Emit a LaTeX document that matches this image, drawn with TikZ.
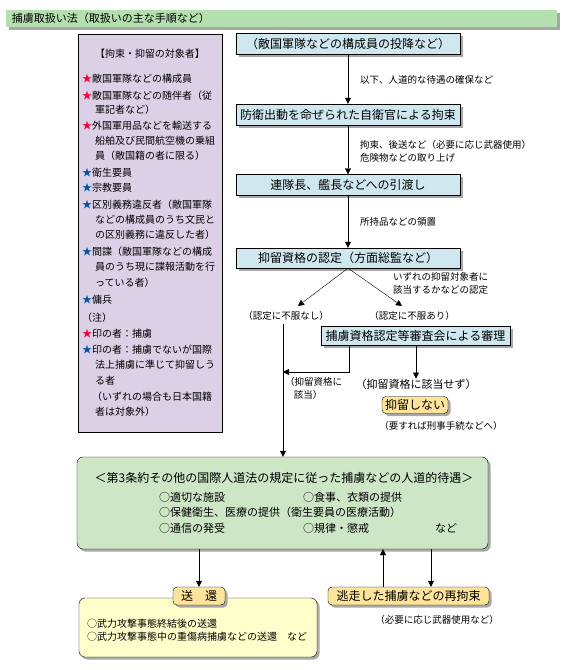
\documentclass[tikz,border=0pt]{standalone}
\usepackage{fontspec}
\setmainfont{Noto Sans CJK JP}
\usetikzlibrary{arrows.meta,shadows}
\definecolor{titlegreen}{HTML}{B4DFAE}
\definecolor{lavender}{HTML}{DCD0E6}
\definecolor{flowblue}{HTML}{CFE8F0}
\definecolor{treatgreen}{HTML}{CCE6C6}
\definecolor{tagorange}{HTML}{FEE49A}
\definecolor{noteyellow}{HTML}{FFFFCC}
\definecolor{boxshadow}{HTML}{A8A8A8}
\definecolor{starred}{HTML}{FF0033}
\definecolor{starblue}{HTML}{0055AA}
\newcommand{\redstar}{\textcolor{starred}{★}}
\newcommand{\bluestar}{\textcolor{starblue}{★}}
\newcommand{\fsz}[1]{\fontsize{#1}{13}\selectfont}

\tikzset{
  arr/.style={-{Triangle[length=6pt,width=6pt]}},
  shade box/.style={drop shadow={shadow xshift=2.5pt,shadow yshift=-2.5pt,fill=boxshadow,opacity=1}},
  bluebox/.style={draw, fill=flowblue, shade box, inner sep=0pt, font=\fsz{12}},
  tagbox/.style={draw, fill=tagorange, rounded corners=4pt, shade box, inner sep=0pt, font=\fsz{12}},
  lbl/.style={font=\fsz{9.5}, inner sep=0pt},
}

\begin{document}
\begin{tikzpicture}[x=1pt,y=-1pt]
    \useasboundingbox (0,0) rectangle (569,670);

    % Title bar
    \node[fill=titlegreen, shade box, minimum width=551pt, minimum height=17pt, inner sep=0pt] (titlebar) at (281.5,18.5) {};
    \node[anchor=west, font=\fsz{11}, inner sep=0pt] (titletext) at ([xshift=6pt]titlebar.west) {捕虜取扱い法（取扱いの主な手順など）};

    % Persons to be detained
    \node[draw, fill=lavender, minimum width=144pt, minimum height=398pt] (targets) at (150,233) {};
    \node[font=\fsz{10}, inner sep=0pt] (targethead) at (150,54) {【拘束・抑留の対象者】};
    \foreach \y/\x/\t in {
        79/82/{\redstar 敵国軍隊などの構成員},
        96/82/{\redstar 敵国軍隊などの随伴者（従},
        110/95/{軍記者など）},
        126/82/{\redstar 外国軍用品などを輸送する},
        141/95/{船舶及び民間航空機の乗組},
        156/95/{員（敵国籍の者に限る）},
        173/82/{\bluestar 衛生要員},
        188/82/{\bluestar 宗教要員},
        205/82/{\bluestar 区別義務違反者（敵国軍隊},
        220/95/{などの構成員のうち文民と},
        235/95/{の区別義務に違反した者）},
        252/82/{\bluestar 間諜（敵国軍隊などの構成},
        267/95/{員のうち現に諜報活動を行},
        283/95/{っている者）},
        300/82/{\bluestar 傭兵},
        318/82/{（注）},
        334/82/{\redstar 印の者：捕虜},
        350/82/{\bluestar 印の者：捕虜でないが国際},
        365/95/{法上捕虜に準じて抑留しう},
        381/95/{る者},
        397/92/{（いずれの場合も日本国籍},
        412/95/{者は対象外）}} {
        \node[anchor=west, font=\fsz{10}, inner sep=0pt] (t\y) at (\x,\y) {\t};
    }

    % Main flow
    \node[bluebox, minimum width=224pt, minimum height=21pt] (surrender) at (348,43.5) {（敵国軍隊などの構成員の投降など）};
    \node[bluebox, minimum width=224pt, minimum height=21pt] (detain) at (348,114.5) {防衛出動を命ぜられた自衛官による拘束};
    \node[bluebox, minimum width=224pt, minimum height=21pt] (handover) at (348,185) {連隊長、艦長などへの引渡し};
    \node[bluebox, minimum width=224pt, minimum height=20pt] (qualify) at (348,258) {抑留資格の認定（方面総監など）};

    \draw[arr] (surrender) -- (detain);
    \draw[arr] (detain) -- (handover);
    \draw[arr] (handover) -- (qualify);

    \node[lbl, anchor=west] (care) at (360,80) {以下、人道的な待遇の確保など};
    \node[lbl, anchor=west, align=left] (seize) at (360,151) {拘束、後送など（必要に応じ武器使用）\\危険物などの取り上げ};
    \node[lbl, anchor=west] (custody) at (360,222) {所持品などの領置};
    \node[lbl, anchor=west, align=left] (judge) at (393,283) {いずれの抑留対象者に\\該当するかなどの認定};

    % Split after the decision
    \coordinate (nashitip) at (298,306);
    \coordinate (aritip) at (402,306);
    \draw[arr] (qualify.south) -- (nashitip);
    \draw[arr] (qualify.south) -- (aritip);
    \node[lbl] (nashi) at (286,316) {（認定に不服なし）};
    \node[lbl] (ari) at (412,316) {（認定に不服あり）};

    \node[bluebox, minimum width=189pt, minimum height=19pt] (review) at (415.5,336) {捕虜資格認定等審査会による審理};
    \node[font=\fsz{11}, inner sep=0pt] (nogai) at (416,384) {（抑留資格に該当せず）};
    \node[lbl, anchor=north west, align=left] (gai) at (285,377) {（抑留資格に\\\hspace*{0.9em}該当）};
    \node[tagbox, minimum width=66pt, minimum height=17pt] (norelease) at (415,405) {抑留しない};
    \node[lbl] (keiji) at (441,426) {（要すれば刑事手続などへ）};

    % Humane treatment
    \node[draw, fill=treatgreen, rounded corners=6pt, shade box, minimum width=411pt, minimum height=92pt] (treat) at (282.5,503) {};
    \node[font=\fsz{12}, inner sep=0pt] (treattitle) at (284,478) {＜第3条約その他の国際人道法の規定に従った捕虜などの人道的待遇＞};
    \node[anchor=west, font=\fsz{11}, inner sep=0pt] (facility) at (159,497) {○適切な施設};
    \node[anchor=west, font=\fsz{11}, inner sep=0pt] (food) at (303,497) {○食事、衣類の提供};
    \node[anchor=west, font=\fsz{11}, inner sep=0pt] (health) at (159,512) {○保健衛生、医療の提供（衛生要員の医療活動）};
    \node[anchor=west, font=\fsz{11}, inner sep=0pt] (mail) at (159,528) {○通信の発受};
    \node[anchor=west, font=\fsz{11}, inner sep=0pt] (discipline) at (303,528) {○規律・懲戒};
    \node[anchor=west, font=\fsz{11}, inner sep=0pt] (etc) at (435,528) {など};

    \coordinate (vtop) at (283,324);
    \coordinate (jx) at (349,372);
    \draw[arr] (vtop) -- (vtop |- treat.north);
    \draw[arr] (review.south -| jx) |- (vtop |- jx);
    \draw[arr] (review.south -| nogai) -- (nogai.north);

    % Repatriation and recapture
    \node[draw, fill=noteyellow, rounded corners=6pt, shade box, minimum width=238pt, minimum height=59pt] (repbox) at (198,627.5) {};
    \node[tagbox, minimum width=52pt, minimum height=18pt] (sokan) at (199,596) {送\hspace{1em}還};
    \node[anchor=west, font=\fsz{10}, inner sep=0pt] (rep1) at (87,624) {○武力攻撃事態終結後の送還};
    \node[anchor=west, font=\fsz{10}, inner sep=0pt] (rep2) at (87,637) {○武力攻撃事態中の重傷病捕虜などの送還\hspace{1em}など};

    \node[tagbox, minimum width=161pt, minimum height=18pt] (recap) at (408.5,596) {逃走した捕虜などの再拘束};
    \node[lbl] (armsnote) at (437,620) {（必要に応じ武器使用など）};

    \coordinate (upx) at (383,0);
    \coordinate (dnx) at (431,0);
    \draw[arr] (treat.south -| sokan) -- (sokan.north);
    \draw[arr] (recap.north -| upx) -- (treat.south -| upx);
    \draw[arr] (treat.south -| dnx) -- (recap.north -| dnx);
\end{tikzpicture}
\end{document}
